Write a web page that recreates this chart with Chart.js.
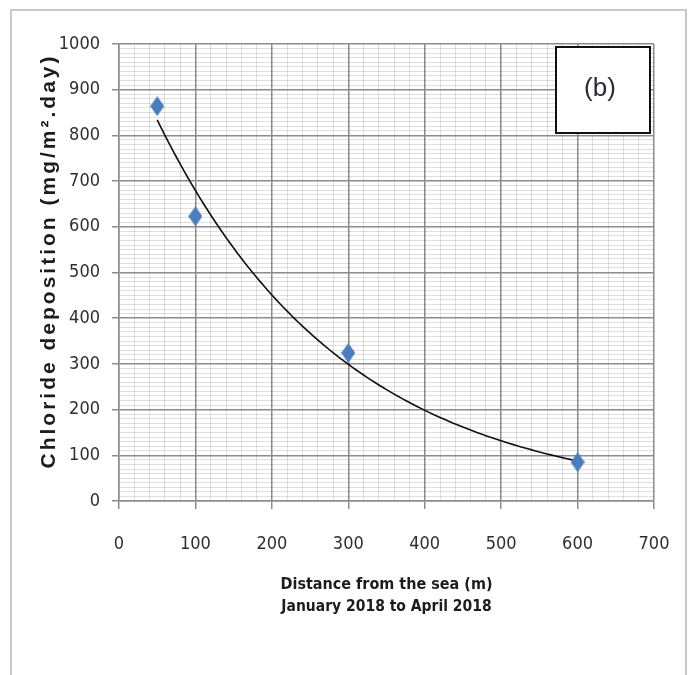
<!DOCTYPE html>
<html>
<head>
<meta charset="utf-8">
<script src="https://cdn.jsdelivr.net/npm/chart.js@4/dist/chart.umd.min.js"></script>
<style>
  html, body { margin: 0; padding: 0; background: #ffffff; }
  #wrap { position: relative; width: 691px; height: 675px; }
</style>
</head>
<body>
<div id="wrap"><canvas id="chart" width="691" height="675"></canvas></div>
<script>
// Measured chloride deposition against distance from the shoreline
const distances = [50, 100, 300, 600];          // m
const chloride = [864, 623, 324, 85];           // mg/m².day

// Labelled tick values (grid is finer than the labels)
const xTickLabels = [0, 100, 200, 300, 400, 500, 600, 700];
const yTickLabels = [0, 100, 200, 300, 400, 500, 600, 700, 800, 900, 1000];

const xTitle = 'Distance from the sea (m)';
const xSubtitle = 'January 2018 to April 2018';
const yTitle = 'Chloride deposition (mg/m².day)';
const panelLabel = '(b)';

const NARROW = "'Liberation Sans Narrow', 'DejaVu Sans Condensed', 'Roboto', sans-serif";

// Exponential trendline y = a·e^(b·x), least squares on ln(y)
function expFit(xs, ys) {
  const n = xs.length;
  const ly = ys.map(v => Math.log(v));
  const mx = xs.reduce((s, v) => s + v, 0) / n;
  const my = ly.reduce((s, v) => s + v, 0) / n;
  let sxy = 0, sxx = 0;
  for (let i = 0; i < n; i++) {
    sxy += (xs[i] - mx) * (ly[i] - my);
    sxx += (xs[i] - mx) * (xs[i] - mx);
  }
  const b = sxy / sxx;
  return { a: Math.exp(my - b * mx), b };
}
const fit = expFit(distances, chloride);
const trend = [];
for (let x = distances[0]; x <= distances[distances.length - 1]; x += 5) {
  trend.push({ x, y: fit.a * Math.exp(fit.b * x) });
}

// Tall blue diamond marker
const marker = document.createElement('canvas');
marker.width = 14; marker.height = 20;
(() => {
  const m = marker.getContext('2d');
  m.fillStyle = '#4a7ebb';
  m.beginPath();
  m.moveTo(7, 0); m.lineTo(14, 10); m.lineTo(7, 20); m.lineTo(0, 10);
  m.closePath(); m.fill();
})();

const MAJOR = '#8c8c8c';
const MINOR = 'rgba(0,0,0,0.12)';

function gridFor(labels, tickLen) {
  const isMajor = c => c.tick && labels.includes(Math.round(c.tick.value));
  return {
    color: c => isMajor(c) ? MAJOR : MINOR,
    lineWidth: c => isMajor(c) ? 1.5 : 1,
    tickColor: c => isMajor(c) ? MAJOR : 'rgba(0,0,0,0)',
    tickLength: tickLen,
    drawTicks: true
  };
}

const decorations = {
  id: 'decorations',
  beforeDraw(chart) {
    const c = chart.ctx;
    c.save();
    c.fillStyle = '#ffffff';
    c.fillRect(0, 0, chart.width, chart.height);
    c.strokeStyle = '#c8c8c8';
    c.lineWidth = 2;
    c.strokeRect(11, 10, 675, 700);
    c.restore();
  },
  afterDraw(chart) {
    const c = chart.ctx;
    const area = chart.chartArea;
    c.save();
    // y-axis title
    c.fillStyle = '#1c1c1c';
    c.textAlign = 'center';
    c.textBaseline = 'middle';
    c.translate(49, 261);
    c.rotate(-Math.PI / 2);
    c.font = "bold 21px 'Liberation Sans', Arial, sans-serif";
    c.letterSpacing = '3px';
    c.fillText(yTitle, 0, 0);
    c.restore();

    c.save();
    c.fillStyle = '#1c1c1c';
    c.textAlign = 'center';
    c.textBaseline = 'middle';
    const cx = (area.left + area.right) / 2;
    c.font = 'bold 16px ' + NARROW;
    c.fillText(xTitle, cx, 585);
    c.font = 'bold 15.5px ' + NARROW;
    c.fillText(xSubtitle, cx, 607);

    // panel tag box
    c.fillStyle = '#ffffff';
    c.fillRect(556, 47, 94, 86);
    c.strokeStyle = '#111111';
    c.lineWidth = 2;
    c.strokeRect(556, 47, 94, 86);
    c.fillStyle = '#2a2a38';
    c.font = "26px 'Liberation Sans', Arial, sans-serif";
    c.fillText(panelLabel, 600, 89);
    c.restore();
  }
};

new Chart(document.getElementById('chart'), {
  type: 'scatter',
  data: {
    datasets: [
      {
        label: 'Chloride deposition',
        data: distances.map((x, i) => ({ x, y: chloride[i] })),
        pointStyle: marker,
        pointRadius: 8,
        showLine: false,
        order: 0
      },
      {
        label: 'Expon. trend',
        data: trend,
        showLine: true,
        borderColor: '#111111',
        borderWidth: 1.6,
        pointRadius: 0,
        fill: false,
        order: 1
      }
    ]
  },
  options: {
    responsive: false,
    animation: false,
    devicePixelRatio: 1,
    layout: { padding: { left: 0, right: 37, top: 44, bottom: 0 } },
    plugins: { legend: { display: false }, tooltip: { enabled: false } },
    scales: {
      x: {
        type: 'linear',
        min: 0, max: 700,
        grid: gridFor(xTickLabels, 8),
        border: { color: MAJOR, width: 1.5 },
        ticks: {
          stepSize: 20,
          autoSkip: false,
          maxRotation: 0,
          padding: 25,
          color: '#2e2e2e',
          font: { family: NARROW, size: 18 },
          callback: v => xTickLabels.includes(Math.round(v)) ? String(Math.round(v)) : ''
        },
        afterFit: s => { s.height = 174; s.paddingLeft = 0; s.paddingRight = 0; }
      },
      y: {
        type: 'linear',
        min: 0, max: 1000,
        grid: gridFor(yTickLabels, 7),
        border: { color: MAJOR, width: 1.5 },
        ticks: {
          stepSize: 10,
          autoSkip: false,
          padding: 12,
          color: '#2e2e2e',
          font: { family: NARROW, size: 18 },
          callback: v => yTickLabels.includes(Math.round(v)) ? String(Math.round(v)) : ''
        },
        afterFit: s => { s.width = 119; }
      }
    }
  },
  plugins: [decorations]
});
</script>
</body>
</html>
